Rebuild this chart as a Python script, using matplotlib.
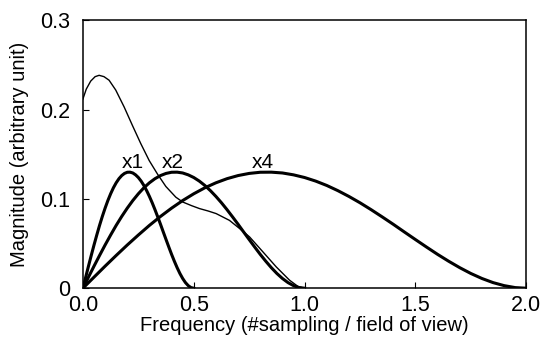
import numpy as np
import matplotlib
matplotlib.use("Agg")
import matplotlib.pyplot as plt

plt.rcParams["font.family"] = ["Liberation Sans", "DejaVu Sans"]

# normalised frequency (fraction of cutoff) and the shared profile of the thick curves
profile_pos = [0.0, 0.025, 0.05, 0.075, 0.1, 0.125, 0.15, 0.175, 0.2, 0.225,
               0.25, 0.275, 0.3, 0.325, 0.35, 0.375, 0.4, 0.425, 0.45, 0.475,
               0.5, 0.525, 0.55, 0.575, 0.6, 0.625, 0.65, 0.675, 0.7, 0.725,
               0.75, 0.775, 0.8, 0.825, 0.85, 0.875, 0.9, 0.925, 0.95, 0.975, 1.0]
profile_val = [0.0, 0.0124, 0.0247, 0.0367, 0.0484, 0.0596, 0.0704, 0.0804,
               0.0897, 0.0982, 0.1058, 0.1125, 0.1181, 0.1227, 0.1262, 0.1286,
               0.1299, 0.1300, 0.1291, 0.1270, 0.1240, 0.1200, 0.1151, 0.1093,
               0.1028, 0.0957, 0.0880, 0.0799, 0.0716, 0.0630, 0.0545, 0.0461,
               0.0379, 0.0302, 0.0230, 0.0165, 0.0109, 0.0063, 0.0029, 0.0007, 0.0]

# cutoff frequency of each curve and its label
cutoffs = [0.5, 1.0, 2.0]
labels = ["x1", "x2", "x4"]
label_x = [0.224, 0.405, 0.81]
label_y = 0.141

# thin curve
thin_freq = [0.0, 0.015, 0.035, 0.055, 0.073, 0.095, 0.118, 0.148, 0.186, 0.223,
             0.261, 0.299, 0.336, 0.374, 0.419, 0.45, 0.49, 0.526, 0.565, 0.601,
             0.661, 0.707, 0.752, 0.812, 0.872, 0.932, 0.97, 1.0]
thin_mag = [0.212, 0.223, 0.232, 0.237, 0.2385, 0.237, 0.233, 0.222, 0.203, 0.1825,
            0.162, 0.143, 0.128, 0.114, 0.102, 0.0966, 0.0925, 0.0892, 0.0865, 0.0836,
            0.076, 0.0668, 0.0574, 0.0407, 0.0239, 0.009, 0.002, 0.0]

x_ticks = [0.0, 0.5, 1.0, 1.5, 2.0]
x_ticklabels = ["0.0", "0.5", "1.0", "1.5", "2.0"]
y_ticks = [0.0, 0.1, 0.2, 0.3]
y_ticklabels = ["0", "0.1", "0.2", "0.3"]

fig = plt.figure(figsize=(5.42, 3.46), dpi=100)
ax = fig.add_axes([0.153, 0.167, 0.818, 0.774])

ax.plot(thin_freq, thin_mag, color="black", lw=1.0)
for cut in cutoffs:
    ax.plot(np.array(profile_pos) * cut, profile_val, color="black", lw=2.2)
for lab, lx in zip(labels, label_x):
    ax.text(lx, label_y, lab, ha="center", va="center", fontsize=15)

ax.set_xlim(0, 2.0)
ax.set_ylim(0, 0.3)
ax.set_xticks(x_ticks)
ax.set_xticklabels(x_ticklabels)
ax.set_yticks(y_ticks)
ax.set_yticklabels(y_ticklabels)
ax.tick_params(direction="in", length=4, width=0.8, labelsize=15.5)
ax.tick_params(axis="y", pad=9)
ax.tick_params(axis="x", pad=5)
for sp in ax.spines.values():
    sp.set_linewidth(1.1)
ax.set_xlabel("Frequency (#sampling / field of view)", fontsize=14.5, labelpad=0)
ax.set_ylabel("Magnitude (arbitrary unit)", fontsize=14.5, labelpad=8)

fig.savefig("out.png", dpi=100)
